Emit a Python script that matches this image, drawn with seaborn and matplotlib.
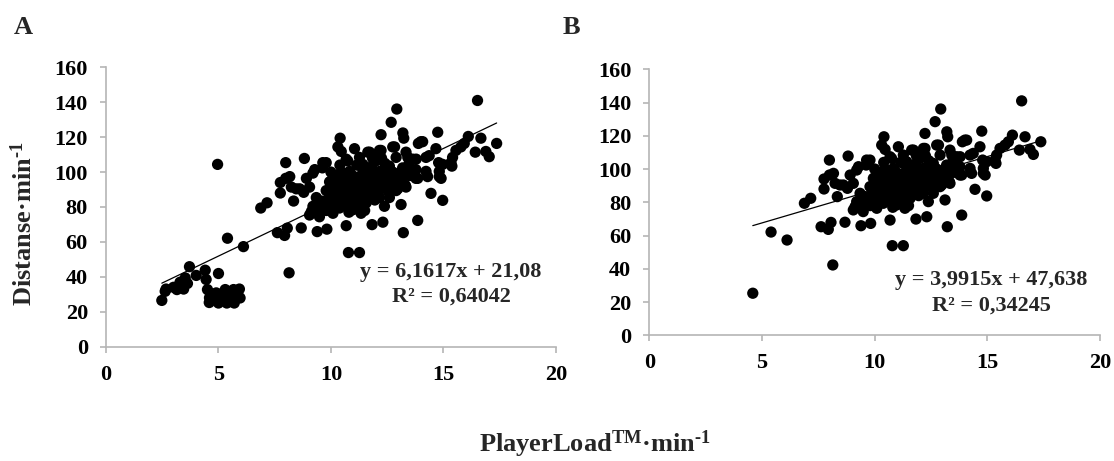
import numpy as np
import pandas as pd
import matplotlib
matplotlib.use("Agg")
import matplotlib.pyplot as plt
import seaborn as sns

# Players present in both analyses: PlayerLoad per minute vs distance per minute
shared_load = [
    4.59, 5.40, 6.11, 6.88, 7.16, 7.62, 7.75, 7.75, 7.99, 7.99, 7.94, 8.06, 8.14, 8.17,
    8.24, 8.34, 8.46, 8.68, 8.79, 8.82, 8.91, 9.13, 9.20, 9.28, 9.39, 9.50, 9.57, 9.62,
    9.79, 9.82, 10.41, 10.31, 10.46, 10.68, 10.78, 11.27, 11.05, 10.75, 11.42, 11.72,
    11.83, 12.23, 12.31, 12.38, 12.23, 12.60, 12.68, 12.83, 12.93, 12.97, 13.12, 13.20,
    13.24, 13.22, 13.31, 13.42, 13.49, 13.79, 13.86, 13.89, 14.08, 13.86, 14.23, 14.30,
    14.45, 14.67, 14.75, 14.79, 14.82, 14.90, 14.97, 15.38, 15.41, 15.56, 15.78, 15.93,
    16.11, 16.42, 16.52, 16.67, 16.89, 17.04, 17.37,
    11.64, 12.16, 12.75, 13.34, 14.00, 9.64, 10.68, 11.27, 12.01, 12.90, 13.64, 14.37,
    14.97, 15.34, 10.09, 10.83, 11.42, 12.16, 12.60, 13.19, 13.78, 14.23, 14.82, 9.94,
    10.38, 10.97, 11.57, 12.08, 12.60, 13.19, 13.78, 8.61, 9.79, 10.24, 10.83, 11.42,
    12.01, 12.45, 12.90, 9.35, 9.94, 10.53, 11.12, 11.57, 12.16, 9.20, 9.64, 10.38,
    10.97, 11.27, 9.05, 9.49, 10.09, 11.34, 9.05, 10.75, 11.86, 13.34,
    10.20, 10.50, 10.90, 11.20, 11.70, 11.90, 12.30, 12.50, 10.10, 10.60, 11.00, 11.50,
    9.80, 10.30, 11.80, 12.40, 13.00, 13.50, 10.00, 10.40, 11.10, 11.60, 12.20, 12.70,
    10.15, 10.35, 10.55, 10.70, 10.85, 11.05, 11.25, 11.40, 11.55, 11.75, 11.95, 12.10,
    12.35, 12.55, 12.75, 12.95, 13.10, 13.40, 13.60, 10.25, 10.45, 10.65, 10.95, 11.15,
    11.35, 11.65, 11.85, 12.25, 12.45, 9.70, 9.90, 9.45, 10.05, 10.80, 11.45,
]
shared_dist = [
    25.3, 62.1, 57.3, 79.4, 82.4, 65.3, 94.0, 88.0, 105.4, 96.4, 63.7, 67.9, 42.3, 97.4,
    91.4, 83.4, 90.4, 68.0, 88.4, 107.8, 96.4, 77.4, 99.4, 101.4, 65.9, 79.4, 83.4, 102.4,
    105.4, 67.3, 119.4, 114.4, 111.8, 69.3, 53.9, 53.9, 113.4, 106.4, 104.4, 111.4,
    69.9, 121.4, 71.3, 80.4, 112.4, 85.4, 128.5, 114.4, 136.1, 90.4, 81.4, 122.4,
    119.4, 65.3, 92.4, 108.4, 105.4, 107.4, 72.3, 116.4, 117.4, 96.4, 108.4, 97.4,
    87.8, 113.4, 122.8, 105.4, 100.4, 96.4, 83.8, 103.4, 108.4, 112.4, 114.4, 116.4,
    120.4, 111.4, 141.0, 119.4, 111.8, 108.8, 116.4,
    111.4, 112.4, 114.4, 111.4, 117.4, 105.4, 107.4, 108.4, 106.4, 108.4, 107.4, 109.4,
    104.4, 105.4, 98.4, 100.4, 101.4, 100.4, 103.4, 102.4, 101.4, 100.4, 97.4, 94.4,
    93.4, 94.4, 95.4, 94.4, 93.4, 96.4, 96.4, 90.4, 89.4, 88.4, 87.4, 89.4,
    88.4, 90.4, 89.4, 85.4, 83.4, 84.4, 83.4, 82.4, 85.4, 80.4, 79.4, 79.4,
    78.4, 80.4, 75.4, 74.4, 76.4, 76.4, 91.4, 91.4, 92.4, 91.4,
    90.0, 96.0, 89.0, 92.0, 86.0, 98.0, 97.0, 99.0, 86.0, 81.0, 85.0, 78.0,
    78.0, 82.0, 103.0, 105.0, 99.0, 98.0, 100.0, 104.0, 97.0, 91.0, 91.0, 96.0,
    92.0, 86.0, 90.0, 95.0, 82.0, 90.0, 86.0, 93.0, 88.0, 95.0, 84.0, 97.0,
    93.0, 89.0, 100.0, 94.0, 98.0, 103.0, 100.0, 96.0, 100.0, 86.0, 98.0, 104.0,
    98.0, 100.0, 108.0, 108.0, 101.0, 83.0, 88.0, 77.0, 81.0, 77.0, 84.0,
]

# Additional observations that only enter panel A
extra_load_a = [
    2.48, 2.63, 2.67, 3.00, 3.15, 3.29, 3.45, 3.52, 3.62, 3.71, 4.01, 4.41, 4.45, 4.51,
    4.60, 4.75, 4.90, 5.00, 5.00, 5.15, 5.25, 5.30, 5.37, 5.52, 5.55, 5.67, 5.70, 5.82,
    5.85, 5.93, 5.96, 4.96,
]
extra_dist_a = [
    26.5, 31.7, 33.0, 34.0, 32.7, 36.9, 33.0, 39.4, 36.2, 45.8, 40.8, 43.8, 38.5, 32.7,
    28.0, 29.0, 30.8, 41.9, 25.0, 29.8, 27.0, 32.7, 25.0, 29.8, 26.0, 32.7, 25.0, 28.5,
    30.5, 33.0, 27.9, 104.4,
]

# Linear trendlines as reported on each panel
slope_a, intercept_a, r2_a = 6.1617, 21.08, "0,64042"
slope_b, intercept_b, r2_b = 3.9915, 47.638, "0,34245"
eq_a = "y = 6,1617x + 21,08"
eq_b = "y = 3,9915x + 47,638"

x_ticks = [0, 5, 10, 15, 20]
y_ticks = [0, 20, 40, 60, 80, 100, 120, 140, 160]

sns.set_theme(style="ticks")
plt.rcParams["font.family"] = ["Liberation Serif", "DejaVu Serif"]
plt.rcParams["font.weight"] = "bold"
plt.rcParams["mathtext.fontset"] = "custom"
plt.rcParams["mathtext.rm"] = "Liberation Serif:bold"
plt.rcParams["mathtext.bf"] = "Liberation Serif:bold"
plt.rcParams["mathtext.it"] = "Liberation Serif:bold"

df_a = pd.DataFrame({"load": shared_load + extra_load_a,
                     "dist": shared_dist + extra_dist_a})
df_b = pd.DataFrame({"load": shared_load, "dist": shared_dist})

fig = plt.figure(figsize=(11.14, 4.61), dpi=100)
ax_a = fig.add_axes([0.0952, 0.248, 0.4037, 0.606])
ax_b = fig.add_axes([0.5829, 0.2727, 0.4046, 0.577])

axis_grey = "#b5b5b5"


def draw_panel(ax, df, slope, intercept, eq, r2, eq_pos, r2_pos):
    sns.scatterplot(data=df, x="load", y="dist", ax=ax, color="black",
                    s=66, edgecolor="none", linewidth=0, zorder=3)
    xs = np.array([df["load"].min(), df["load"].max()])
    line = pd.DataFrame({"load": xs, "dist": slope * xs + intercept})
    sns.lineplot(data=line, x="load", y="dist", ax=ax, color="black",
                 linewidth=0.9, zorder=4)
    ax.set_xlim(0, 20)
    ax.set_ylim(0, 160)
    ax.set_xticks(x_ticks)
    ax.set_yticks(y_ticks)
    ax.set_xlabel("")
    ax.set_ylabel("")
    for side in ("top", "right"):
        ax.spines[side].set_visible(False)
    for side in ("left", "bottom"):
        ax.spines[side].set_color(axis_grey)
        ax.spines[side].set_linewidth(1.2)
    ax.tick_params(axis="both", colors=axis_grey, length=4, width=1.2,
                   labelcolor="black", labelsize=16, pad=9)
    for lab in ax.get_xticklabels() + ax.get_yticklabels():
        lab.set_fontweight("bold")
    ax.text(*eq_pos, eq, fontsize=16, fontweight="bold", ha="left", va="center")
    ax.text(*r2_pos, "R² = " + r2, fontsize=16, fontweight="bold",
            ha="left", va="center")


draw_panel(ax_a, df_a, slope_a, intercept_a, eq_a, r2_a, (11.3, 42.8), (12.7, 28.5))
draw_panel(ax_b, df_b, slope_b, intercept_b, eq_b, r2_b, (10.9, 33.3), (12.55, 17.6))

fig.text(0.012, 0.941, "A", fontsize=19, fontweight="bold", ha="left", va="center")
fig.text(0.505, 0.941, "B", fontsize=19, fontweight="bold", ha="left", va="center")

fig.text(0.021, 0.514, r"Distanse·min$^{\text{-1}}$", fontsize=19, fontweight="bold",
         rotation=90, ha="center", va="center")
fig.text(0.534, 0.036, r"PlayerLoad$^{\text{TM}}$·min$^{\text{-1}}$", fontsize=19,
         fontweight="bold", ha="center", va="center")

fig.savefig("out.png", dpi=100, facecolor="white")
